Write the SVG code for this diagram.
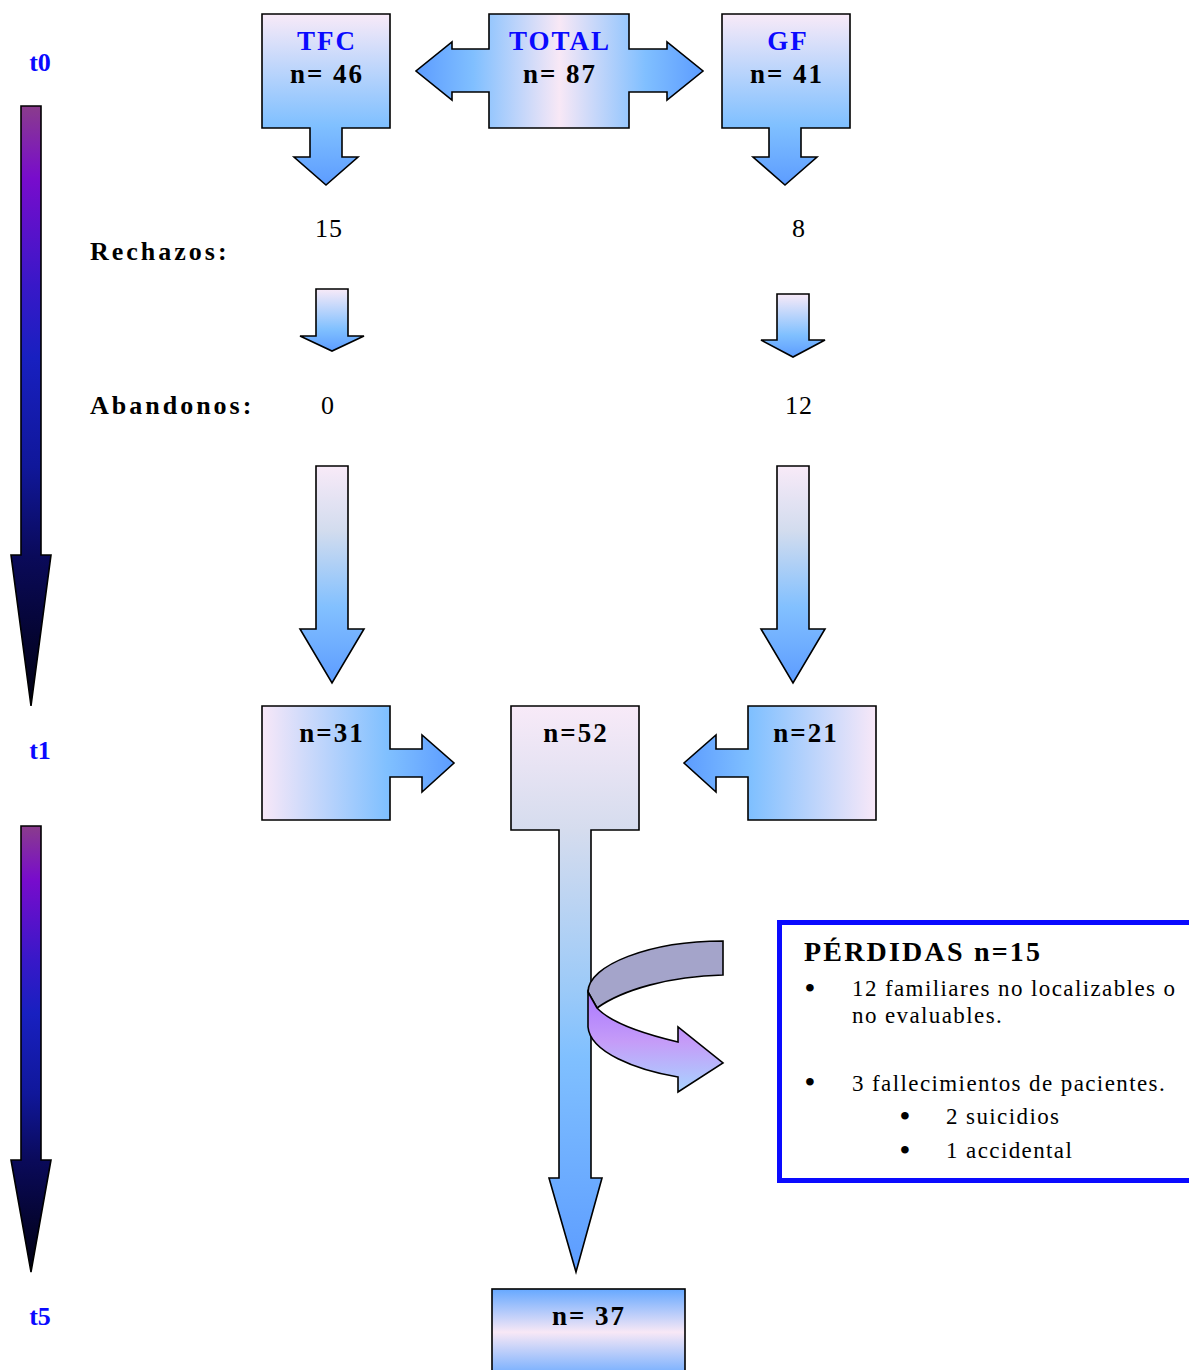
<svg xmlns="http://www.w3.org/2000/svg" width="1189" height="1370" viewBox="0 0 1189 1370">
<style>
.sh{stroke:#000;stroke-width:1.6;stroke-linejoin:miter}
.hb{font-family:"Liberation Serif","Times New Roman",serif;font-weight:bold;font-size:27px;fill:#0a0aff;text-anchor:middle;letter-spacing:2px}
.nb{font-family:"Liberation Serif","Times New Roman",serif;font-weight:bold;font-size:27px;fill:#000;text-anchor:middle;letter-spacing:2px}
.lb{font-family:"Liberation Serif","Times New Roman",serif;font-weight:bold;font-size:26px;fill:#000;letter-spacing:3px}
.num{font-family:"Liberation Serif","Times New Roman",serif;font-size:26px;fill:#000;text-anchor:middle;letter-spacing:1px}
.tl{font-family:"Liberation Serif","Times New Roman",serif;font-weight:bold;font-size:26px;fill:#0a0aff;text-anchor:middle}
.pt{font-family:"Liberation Serif","Times New Roman",serif;font-size:23px;fill:#000;letter-spacing:1.4px}
.bu{font-family:"Liberation Serif","Times New Roman",serif;font-size:28px;font-weight:bold;fill:#000;text-anchor:middle}
.ph{font-family:"Liberation Serif","Times New Roman",serif;font-weight:bold;font-size:28px;fill:#000;letter-spacing:2.2px}
</style>
<defs>
<linearGradient id="gV" x1="0" y1="0" x2="0" y2="1">
<stop offset="0" stop-color="#f8eaf8"/><stop offset="0.65" stop-color="#80c0ff"/><stop offset="1" stop-color="#5c9cff"/>
</linearGradient>
<linearGradient id="gL" x1="0" y1="0" x2="0" y2="1">
<stop offset="0" stop-color="#f8eaf8"/><stop offset="0.3" stop-color="#d2dcee"/><stop offset="0.65" stop-color="#82c0ff"/><stop offset="1" stop-color="#5c9cff"/>
</linearGradient>
<linearGradient id="gTot" x1="0" y1="0" x2="1" y2="0">
<stop offset="0" stop-color="#5c9cff"/><stop offset="0.2" stop-color="#80bfff"/><stop offset="0.5" stop-color="#f8e8f6"/><stop offset="0.8" stop-color="#80bfff"/><stop offset="1" stop-color="#5c9cff"/>
</linearGradient>
<linearGradient id="gR" x1="0" y1="0" x2="1" y2="0">
<stop offset="0" stop-color="#f8e8f8"/><stop offset="0.65" stop-color="#80c0ff"/><stop offset="1" stop-color="#5c9cff"/>
</linearGradient>
<linearGradient id="gLft" x1="1" y1="0" x2="0" y2="0">
<stop offset="0" stop-color="#f8e8f8"/><stop offset="0.65" stop-color="#80c0ff"/><stop offset="1" stop-color="#5c9cff"/>
</linearGradient>
<linearGradient id="g52" x1="0" y1="0" x2="0" y2="1">
<stop offset="0" stop-color="#f8eaf8"/><stop offset="0.22" stop-color="#d5dcee"/><stop offset="0.5" stop-color="#9ccaf8"/><stop offset="0.62" stop-color="#80c0ff"/><stop offset="1" stop-color="#5c9cff"/>
</linearGradient>
<linearGradient id="g37" x1="0" y1="0" x2="0" y2="1">
<stop offset="0" stop-color="#66a8ff"/><stop offset="0.48" stop-color="#f8e8f6"/><stop offset="1" stop-color="#66a8ff"/>
</linearGradient>
<linearGradient id="gTime" x1="0" y1="0" x2="0" y2="1">
<stop offset="0" stop-color="#8a3c8c"/><stop offset="0.12" stop-color="#780ccc"/><stop offset="0.3" stop-color="#3818c8"/><stop offset="0.42" stop-color="#1820c0"/><stop offset="0.6" stop-color="#10179a"/><stop offset="0.75" stop-color="#0a0a5a"/><stop offset="1" stop-color="#000010"/>
</linearGradient>
<linearGradient id="gPur" x1="0" y1="0" x2="0" y2="1">
<stop offset="0" stop-color="#aa77ff"/><stop offset="0.5" stop-color="#c59cf8"/><stop offset="1" stop-color="#a8d4ff"/>
</linearGradient>
</defs>

<g id="timeline">
<path class="sh" fill="url(#gTime)" d="M21,106 H41 V555 H51 L31,706 L11,555 H21 Z"/>
<path class="sh" fill="url(#gTime)" d="M21,826 H41 V1160 H51 L31,1272 L11,1160 H21 Z"/>
<text class="tl" x="40" y="71">t0</text>
<text class="tl" x="40" y="759">t1</text>
<text class="tl" x="40" y="1325">t5</text>
</g>

<g id="labels">
<text class="lb" x="90" y="260">Rechazos:</text>
<text class="lb" x="90" y="414">Abandonos:</text>
<text class="num" x="329" y="237">15</text>
<text class="num" x="799" y="237">8</text>
<text class="num" x="328" y="414">0</text>
<text class="num" x="799" y="414">12</text>
</g>

<g id="connectors">
<path class="sh" fill="url(#gV)" d="M316,289 H348 V336 H364 L332,351 L300,336 H316 Z"/>
<path class="sh" fill="url(#gV)" d="M777,294 H809 V340 H825 L793,357 L761,340 H777 Z"/>
<path class="sh" fill="url(#gL)" d="M316,466 H348 V629 H364 L332,683 L300,629 H316 Z"/>
<path class="sh" fill="url(#gL)" d="M777,466 H809 V629 H825 L793,683 L761,629 H777 Z"/>
</g>

<g id="node-tfc">
<path class="sh" fill="url(#gV)" d="M262,14 H390 V128 H342 V157 H358 L326,185 L294,157 H310 V128 H262 Z"/>
<text class="hb" x="327" y="50">TFC</text>
<text class="nb" x="327" y="83">n= 46</text>
</g>

<g id="node-total">
<path class="sh" fill="url(#gTot)" d="M489,14 H629 V49 H667 V42 L703,71 L667,100 V92 H629 V128 H489 V92 H452 V100 L416,71 L452,42 V49 H489 Z"/>
<text class="hb" x="560" y="50">TOTAL</text>
<text class="nb" x="560" y="83">n= 87</text>
</g>

<g id="node-gf">
<path class="sh" fill="url(#gV)" d="M722,14 H850 V128 H801 V157 H817 L785,185 L753,157 H769 V128 H722 Z"/>
<text class="hb" x="788" y="50">GF</text>
<text class="nb" x="787" y="83">n= 41</text>
</g>

<g id="node-n31">
<path class="sh" fill="url(#gR)" d="M262,706 H390 V749 H422 V735 L454,763 L422,792 V777 H390 V820 H262 Z"/>
<text class="nb" x="332" y="742">n=31</text>
</g>

<g id="node-n21">
<path class="sh" fill="url(#gLft)" d="M876,706 H748 V749 H716 V735 L684,763 L716,792 V777 H748 V820 H876 Z"/>
<text class="nb" x="806" y="742">n=21</text>
</g>

<g id="node-n52">
<path class="sh" fill="url(#g52)" d="M511,706 H639 V830 H591 V1178 H602 L576,1272 L549,1178 H559 V830 H511 Z"/>
<text class="nb" x="576" y="742">n=52</text>
</g>

<g id="curved-arrow">
<path class="sh" fill="#a4a4ca" d="M723,941 V975 C670,976 622,990 597,1008 L588,992 C588,965 650,941 723,941 Z"/>
<path class="sh" fill="url(#gPur)" d="M588,992 L597,1008 C610,1022 640,1033 678,1042 V1027 L723,1063 L678,1092 V1077 C636,1070 590,1052 588,1027 Z"/>
</g>

<g id="node-perdidas">
<rect x="779.5" y="922.5" width="420" height="258" fill="#fff" stroke="#0a0aff" stroke-width="5"/>
<text class="ph" x="804" y="961">PÉRDIDAS n=15</text>
<text class="bu" x="810" y="997">•</text>
<text class="pt" x="852" y="996">12 familiares no localizables o</text>
<text class="pt" x="852" y="1023">no evaluables.</text>
<text class="bu" x="810" y="1091">•</text>
<text class="pt" x="852" y="1091">3 fallecimientos de pacientes.</text>
<text class="bu" x="905" y="1125">•</text>
<text class="pt" x="946" y="1124">2 suicidios</text>
<text class="bu" x="905" y="1159">•</text>
<text class="pt" x="946" y="1158">1 accidental</text>
</g>

<g id="node-n37">
<rect class="sh" x="492" y="1289" width="193" height="90" fill="url(#g37)"/>
<text class="nb" x="589" y="1325">n= 37</text>
</g>
</svg>
